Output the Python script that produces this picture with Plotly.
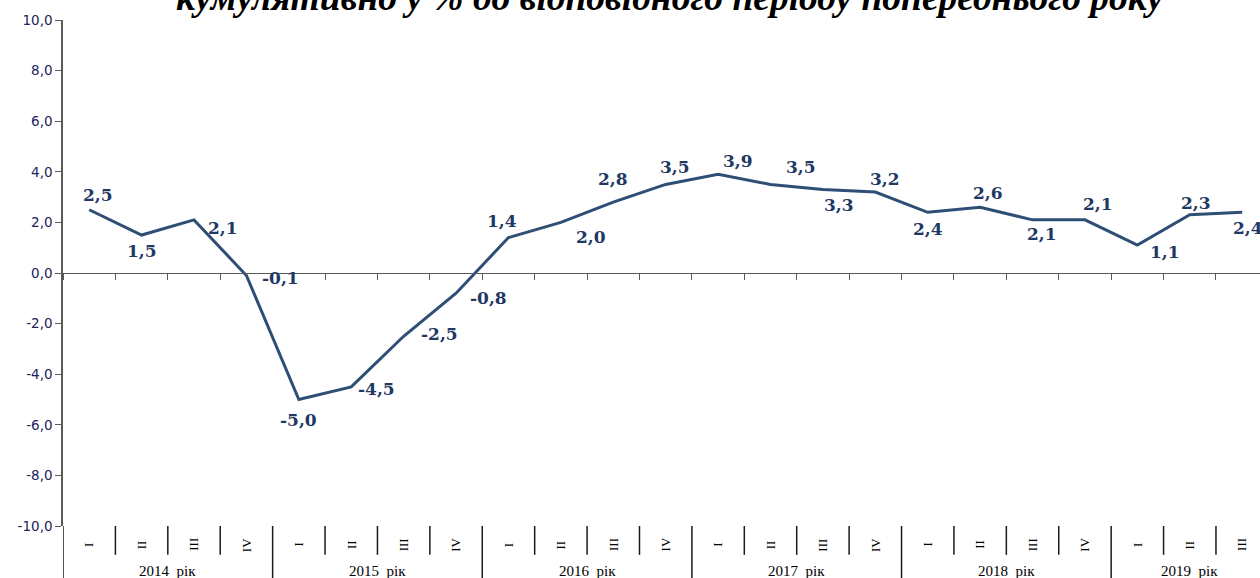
import plotly.graph_objects as go

# ---- data ----
quarters = ["I", "II", "III", "IV"] * 5 + ["I", "II", "III"]
years = ["2014  рік", "2015  рік", "2016  рік", "2017  рік", "2018  рік", "2019  рік"]
quarters_per_year = [4, 4, 4, 4, 4, 3]
values = [2.5, 1.5, 2.1, -0.1,
          -5.0, -4.5, -2.5, -0.8,
          1.4, 2.0, 2.8, 3.5,
          3.9, 3.5, 3.3, 3.2,
          2.4, 2.6, 2.1, 2.1,
          1.1, 2.3, 2.4]
y_ticks = [-10, -8, -6, -4, -2, 0, 2, 4, 6, 8, 10]
y_ticktext = ["-10,0", "-8,0", "-6,0", "-4,0", "-2,0", "0,0", "2,0", "4,0", "6,0", "8,0", "10,0"]
title_text = "кумулятивно у % до відповідного періоду попереднього року"

# label offsets (px): (dx, dy up)
label_offsets = [(9, 15), (0, -16), (29, -8), (34, -2),
                 (0, -20), (25, -2), (36, 2), (32, -5),
                 (-6, 17), (30, -15), (0, 23), (9, 17),
                 (20, 13), (30, 17), (16, -15), (10, 13),
                 (0, -17), (8, 14), (9, -14), (13, 16),
                 (28, -7), (6, 12), (6, -16)]

LINE = "#2E4E76"
LABEL = "#1F3864"
AXIS = "#5a5a5a"

x = list(range(len(values)))

fig = go.Figure()
fig.add_trace(go.Scatter(x=x, y=values, mode="lines",
                         line=dict(color=LINE, width=3), hoverinfo="skip",
                         showlegend=False))

annotations = []
for i, v in enumerate(values):
    dx, dy = label_offsets[i]
    annotations.append(dict(x=i, y=v, xref="x", yref="y", showarrow=False,
                            text="<b>" + f"{v:.1f}".replace(".", ",") + "</b>",
                            xshift=dx, yshift=dy,
                            font=dict(family="DejaVu Serif", size=17, color=LABEL)))

# quarter labels (rotated)
for i, q in enumerate(quarters):
    annotations.append(dict(x=i, y=-0.037, xref="x", yref="paper", showarrow=False,
                            text=q, textangle=-90, yanchor="middle",
                            font=dict(family="Liberation Serif", size=13, color="#000000")))

shapes = []
# year labels & separators
start = 0
year_bounds = set()
for name, n in zip(years, quarters_per_year):
    center = start + (n - 1) / 2
    annotations.append(dict(x=center, y=-0.088, xref="x", yref="paper", showarrow=False,
                            text=name, yanchor="middle",
                            font=dict(family="Liberation Serif", size=15, color="#000000")))
    year_bounds.add(start - 0.5)
    start += n
year_bounds.add(start - 0.5)

for b in range(len(values) + 1):
    pos = b - 0.5
    if pos in year_bounds:
        y1 = -0.11
    else:
        y1 = -0.057
    shapes.append(dict(type="line", xref="x", yref="paper", x0=pos, x1=pos,
                       y0=0, y1=y1, line=dict(color="#1a1a1a", width=1.5)))

# title (partially cut at the top)
annotations.append(dict(x=0.507, y=1.0, xref="paper", yref="paper", showarrow=False,
                        text=f"<b><i>{title_text}</i></b>", yanchor="bottom", xanchor="center",
                        yshift=0,
                        font=dict(family="Liberation Serif", size=37.5, color="#000000")))

fig.update_layout(
    width=1260, height=578,
    margin=dict(l=63, r=0, t=20, b=52, autoexpand=False),
    paper_bgcolor="white", plot_bgcolor="white",
    annotations=annotations, shapes=shapes,
    xaxis=dict(range=[-0.5, 22.34], anchor="free", position=0.5,
               showgrid=False, zeroline=False, showline=True, linecolor=AXIS, linewidth=1,
               ticks="outside", ticklen=6, tickcolor=AXIS, tickwidth=1,
               tickvals=[b - 0.5 for b in range(len(values) + 1)],
               showticklabels=False),
    yaxis=dict(range=[-10, 10], tickvals=y_ticks, ticktext=y_ticktext,
               showgrid=False, zeroline=False, showline=True, linecolor=AXIS, linewidth=1.5,
               ticks="outside", ticklen=6, tickcolor=AXIS,
               tickfont=dict(family="DejaVu Sans", size=13.5, color="#22225a")),
)

fig.write_html("out.html", config={"displayModeBar": False},
               post_script="document.body.style.margin='0';")
